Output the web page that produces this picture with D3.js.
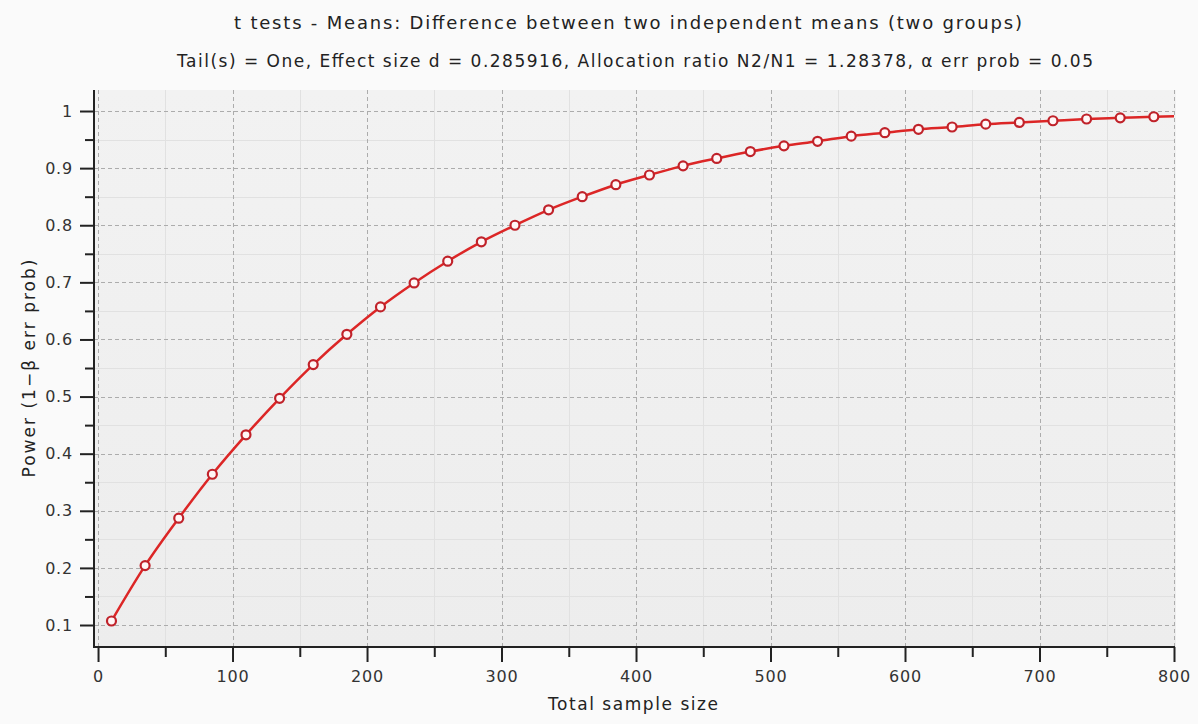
<!DOCTYPE html>
<html>
<head>
<meta charset="utf-8">
<script src="https://cdn.jsdelivr.net/npm/d3@7"></script>
<style>
  html, body { margin: 0; padding: 0; background: #fafafa; }
  svg { display: block; font-family: "DejaVu Sans", Verdana, sans-serif; }
</style>
</head>
<body>
<svg id="chart" width="1198" height="724"></svg>
<script>
// Power curve: total sample size vs. achieved power
const totalSampleSize = [10, 35, 60, 85, 110, 135, 160, 185, 210, 235, 260, 285, 310, 335, 360, 385,
                         410, 435, 460, 485, 510, 535, 560, 585, 610, 635, 660, 685, 710, 735, 760, 785];
const power = [0.107, 0.204, 0.287, 0.364, 0.433, 0.497, 0.556, 0.609, 0.657, 0.699, 0.737, 0.771,
               0.800, 0.827, 0.850, 0.871, 0.888, 0.904, 0.917, 0.929, 0.939, 0.947, 0.956, 0.962,
               0.968, 0.972, 0.977, 0.980, 0.983, 0.986, 0.988, 0.990];
// the curve itself runs on to the end of the axis, past the last marker
const curveTailN = [800];
const curveTailPower = [0.991];

const xMajorTicks = [0, 100, 200, 300, 400, 500, 600, 700, 800];
const xMinorTicks = [50, 150, 250, 350, 450, 550, 650, 750];
const yMajorTicks = [0.1, 0.2, 0.3, 0.4, 0.5, 0.6, 0.7, 0.8, 0.9, 1];
const yMinorTicks = [0.15, 0.25, 0.35, 0.45, 0.55, 0.65, 0.75, 0.85, 0.95];

const titleText = "t tests - Means: Difference between two independent means (two groups)";
const subtitleText = "Tail(s) = One, Effect size d = 0.285916, Allocation ratio N2/N1 = 1.28378, α err prob = 0.05";
const xLabel = "Total sample size";
const yLabel = "Power (1−β err prob)";

const svg = d3.select("#chart");
const plot = { left: 94, right: 1174, top: 90, bottom: 647 };

const x = d3.scaleLinear().domain([-3, 800]).range([plot.left, plot.right]);
const y = d3.scaleLinear().domain([0.0615, 1.0368]).range([plot.bottom, plot.top]);

// plot background
const defs = svg.append("defs");
const grad = defs.append("linearGradient").attr("id", "bg").attr("x1", 0).attr("y1", 0).attr("x2", 0).attr("y2", 1);
grad.append("stop").attr("offset", "0%").attr("stop-color", "#f2f2f2");
grad.append("stop").attr("offset", "100%").attr("stop-color", "#ededed");

svg.append("rect")
  .attr("x", plot.left).attr("y", plot.top)
  .attr("width", plot.right - plot.left + 2).attr("height", plot.bottom - plot.top)
  .attr("fill", "url(#bg)");

// minor grid (light solid)
const grid = svg.append("g");
grid.selectAll(".hminor").data(yMinorTicks).join("line")
  .attr("x1", plot.left).attr("x2", plot.right)
  .attr("y1", d => Math.round(y(d)) + 0.5).attr("y2", d => Math.round(y(d)) + 0.5)
  .attr("stroke", "#e1e1e1").attr("stroke-width", 1);
grid.selectAll(".vminor").data(xMinorTicks).join("line")
  .attr("y1", plot.top).attr("y2", plot.bottom)
  .attr("x1", d => Math.round(x(d)) + 0.5).attr("x2", d => Math.round(x(d)) + 0.5)
  .attr("stroke", "#e1e1e1").attr("stroke-width", 1);

// major grid (dashed)
grid.selectAll(".hmajor").data(yMajorTicks).join("line")
  .attr("x1", plot.left).attr("x2", plot.right)
  .attr("y1", d => Math.round(y(d)) + 0.5).attr("y2", d => Math.round(y(d)) + 0.5)
  .attr("stroke", "#acacac").attr("stroke-width", 1).attr("stroke-dasharray", "4,3");
grid.selectAll(".vmajor").data(xMajorTicks).join("line")
  .attr("y1", plot.top).attr("y2", plot.bottom)
  .attr("x1", d => Math.round(x(d)) + 0.5).attr("x2", d => Math.round(x(d)) + 0.5)
  .attr("stroke", "#acacac").attr("stroke-width", 1).attr("stroke-dasharray", "4,3");

// axes
const tickColor = "#222";
const yAxisMajor = d3.axisLeft(y).tickValues(yMajorTicks).tickSize(14).tickPadding(7)
  .tickFormat(d => d3.format("~g")(d));
const yAxisMinor = d3.axisLeft(y).tickValues(yMinorTicks).tickSize(9).tickFormat("");
const xAxisMajor = d3.axisBottom(x).tickValues(xMajorTicks).tickSize(15).tickPadding(6)
  .tickFormat(d3.format("d"));
const xAxisMinor = d3.axisBottom(x).tickValues(xMinorTicks).tickSize(10).tickFormat("");

function styleAxis(g) {
  g.select(".domain").remove();
  g.selectAll(".tick line").attr("stroke", tickColor).attr("stroke-width", 2);
  g.selectAll(".tick text").attr("fill", "#333").attr("font-size", 16)
    .attr("letter-spacing", "0.8px")
    .attr("font-family", "\"DejaVu Sans\", Verdana, sans-serif");
}

svg.append("g").attr("transform", `translate(${plot.left},0)`).call(yAxisMinor).call(styleAxis);
svg.append("g").attr("transform", `translate(${plot.left},0)`).call(yAxisMajor).call(styleAxis);
svg.append("g").attr("transform", `translate(0,${plot.bottom})`).call(xAxisMinor).call(styleAxis);
svg.append("g").attr("transform", `translate(0,${plot.bottom})`).call(xAxisMajor).call(styleAxis)
  .selectAll(".tick text").attr("dy", "0.85em");

// axis lines
svg.append("line").attr("x1", plot.left).attr("x2", plot.left)
  .attr("y1", plot.top).attr("y2", plot.bottom + 1)
  .attr("stroke", "#222").attr("stroke-width", 2);
svg.append("line").attr("x1", plot.left - 1).attr("x2", plot.right + 1)
  .attr("y1", plot.bottom).attr("y2", plot.bottom)
  .attr("stroke", "#222").attr("stroke-width", 2);

// power curve
const curvePoints = totalSampleSize.map((n, i) => [n, power[i]])
  .concat(curveTailN.map((n, i) => [n, curveTailPower[i]]));
const line = d3.line().x(d => x(d[0])).y(d => y(d[1])).curve(d3.curveMonotoneX);

svg.append("path").datum(curvePoints)
  .attr("d", line).attr("fill", "none")
  .attr("stroke", "#dc2626").attr("stroke-width", 2.5).attr("stroke-linejoin", "round");

svg.append("g").selectAll("circle")
  .data(totalSampleSize.map((n, i) => [n, power[i]]))
  .join("circle")
  .attr("cx", d => x(d[0])).attr("cy", d => y(d[1])).attr("r", 4.5)
  .attr("fill", "#fff6f6").attr("stroke", "#c0222a").attr("stroke-width", 2.2);

// titles
const cx = (plot.left + plot.right) / 2;
svg.append("text").attr("x", cx - 6).attr("y", 29).attr("text-anchor", "middle")
  .attr("font-size", 18).attr("fill", "#222")
  .attr("textLength", 788).attr("lengthAdjust", "spacing").text(titleText);
svg.append("text").attr("x", cx + 1).attr("y", 67).attr("text-anchor", "middle")
  .attr("font-size", 17).attr("fill", "#222")
  .attr("textLength", 916).attr("lengthAdjust", "spacing").text(subtitleText);

// axis labels
svg.append("text").attr("x", cx - 1).attr("y", 710).attr("text-anchor", "middle")
  .attr("font-size", 17).attr("fill", "#222")
  .attr("textLength", 170).attr("lengthAdjust", "spacing").text(xLabel);
svg.append("text")
  .attr("transform", `translate(35,${(plot.top + plot.bottom) / 2}) rotate(-90)`)
  .attr("text-anchor", "middle").attr("font-size", 17).attr("fill", "#222")
  .attr("textLength", 218).attr("lengthAdjust", "spacing").text(yLabel);
</script>
</body>
</html>
